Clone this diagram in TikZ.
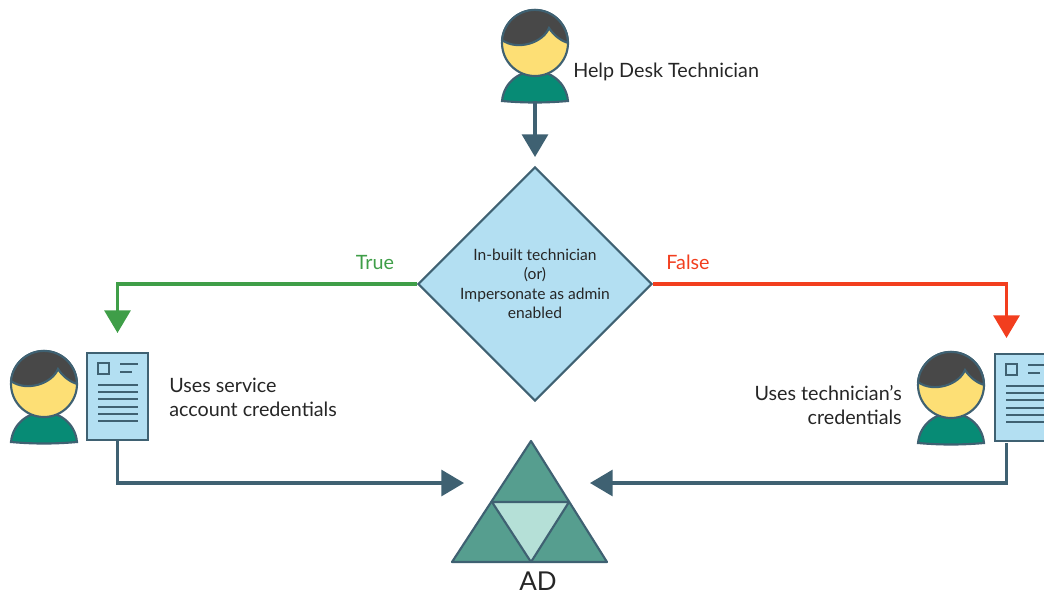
\documentclass[tikz,border=0pt]{standalone}
\usepackage{fontspec}
\usepackage{amsmath}
\setmainfont{Lato}
\usetikzlibrary{arrows.meta,shapes.geometric}
\definecolor{outline}{HTML}{3F6172}
\definecolor{face}{HTML}{FDDF75}
\definecolor{hair}{HTML}{484848}
\definecolor{shirt}{HTML}{078B75}
\definecolor{paper}{HTML}{B3DFF2}
\definecolor{triouter}{HTML}{569E8F}
\definecolor{triinner}{HTML}{B5E0D7}
\definecolor{yesgreen}{HTML}{3F9E48}
\definecolor{nored}{HTML}{F23E1E}
\tikzset{
	link/.style={line width=2.4pt,outline,-{Triangle[width=19.5pt,length=17pt]}},
	label/.style={font=\fontsize{14.8}{17.5}\selectfont,text=black!85,inner sep=0pt},
	person/.pic={
		\coordinate (-base) at (0,58);
		\draw [line width=1.6pt,outline,fill=shirt] (-33,58) .. controls (-31,38) and (-14,28) .. (0,28) .. controls (14,28) and (31,38) .. (33,58) .. controls (10,60) and (-10,60) .. cycle;
		\draw [line width=1.6pt,outline,fill=face] (0,0) circle (33);
		\draw [line width=1.6pt,outline,fill=hair] (-33,-3) arc[start angle=185,end angle=360,radius=33] .. controls (24,-3) and (18,-9) .. (14,-15) .. controls (8,0) and (-18,8) .. (-33,-3) -- cycle;
	},
	credential/.pic={
		\node (-box) [anchor=north west,draw=outline,line width=1.6pt,fill=paper,minimum width=45.75pt,minimum height=65.25pt,inner sep=0pt,outer sep=0pt] at (0,0) {};
		\draw [line width=1.6pt,outline] (11,10) rectangle (22,21);
		\draw [line width=1.6pt,outline] (33,11) -- (51,11);
		\draw [line width=1.6pt,outline] (33,19) -- (45,19);
		\foreach \y in {32,39,46,54,61,68}
			\draw [line width=1.6pt,outline] (11,\y) -- (51,\y);
	}
}
\begin{document}
\begin{tikzpicture}[x=0.75pt,y=-0.75pt]
	\useasboundingbox (0,0) rectangle (1044,594);

	% Draw people and papers
	\pic (tech) at (535,43) {person};
	\pic (userl) at (44,384) {person};
	\pic (userr) at (951,385) {person};
	\pic (docl) at (87,353) {credential};
	\pic (docr) at (995,354) {credential};

	% Draw decision
	\node (check) [shape=diamond,aspect=1,draw=outline,line width=1.6pt,fill=paper,minimum size=175.5pt,inner sep=0pt,align=center,font=\fontsize{11.7}{14.6}\selectfont,text=black!85] at (535,284) {In-built technician\\(or)\\Impersonate as admin\\enabled};

	% Draw AD triangle
	\coordinate (adtop) at (531,441);
	\coordinate (adleft) at (452,562);
	\coordinate (adright) at (607,562);
	\coordinate (admidl) at (492,502);
	\coordinate (admidr) at (569,502);
	\coordinate (adbot) at (531,562);
	\draw [line width=1.6pt,outline,line join=round,fill=triouter] (adtop) -- (adright) -- (adleft) -- cycle;
	\draw [line width=1.6pt,outline,line join=round,fill=triinner] (admidl) -- (admidr) -- (adbot) -- cycle;
	\node (adname) [font=\fontsize{19.5}{19.5}\selectfont,text=black!85,inner sep=0pt] at (538,581) {AD};

	% Draw labels
	\node (helpname) [label,anchor=west] at (573,72) {Help Desk Technician};
	\node (truename) [label,text=yesgreen] at (375,262) {True};
	\node (falsename) [label,text=nored] at (688,262) {False};
	\node (servicename) [label,anchor=west,align=left] at (169,397.5) {Uses service\\account credentials};
	\node (ownname) [label,anchor=east,align=right] at (902,405) {Uses technician’s\\credentials};

	% Draw connectors
	\coordinate (techin) at (535,157);
	\coordinate (yesin) at (117.5,333);
	\coordinate (noin) at (1006.5,338);
	\coordinate (docrout) at (1006.5,443);
	\coordinate (adinl) at (464,483);
	\coordinate (adinr) at (590,483);
	\draw [link] (tech-base) -- (techin);
	\draw [link,yesgreen] (check.west) -| (yesin);
	\draw [link,nored] (check.east) -| (noin);
	\draw [link] (docl-box.south) |- (adinl);
	\draw [link] (docrout) |- (adinr);
\end{tikzpicture}
\end{document}
